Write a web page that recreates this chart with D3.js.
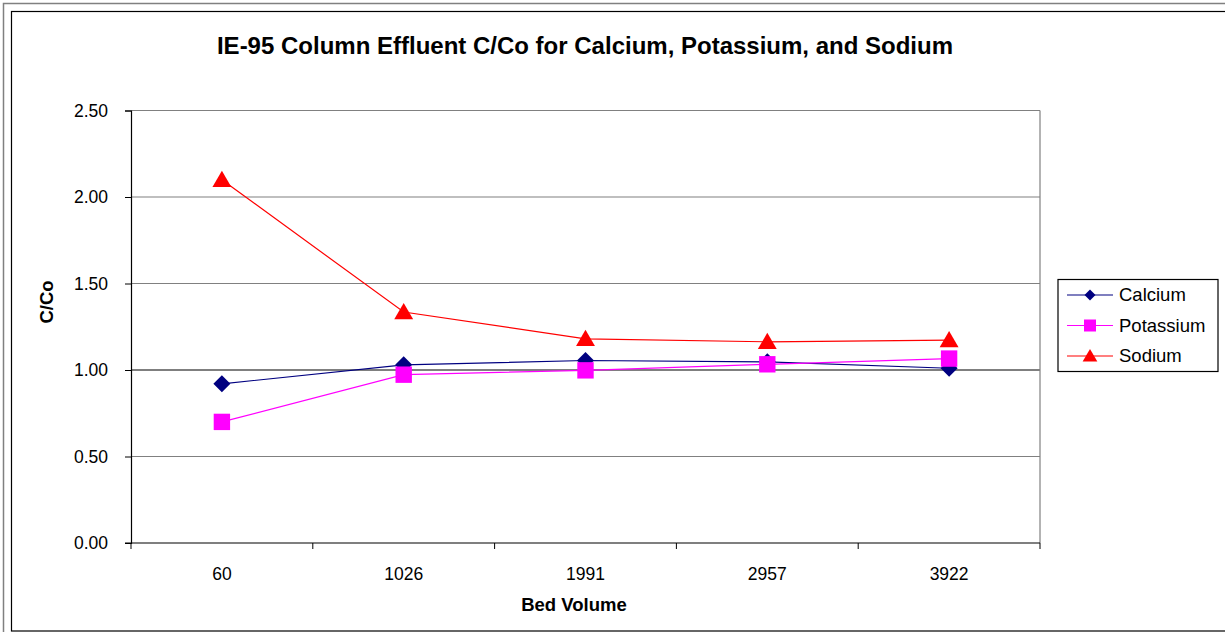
<!DOCTYPE html>
<html><head><meta charset="utf-8">
<script src="https://cdn.jsdelivr.net/npm/d3@7"></script>
<style>body{margin:0;background:#fff}svg{display:block}text{font-family:"Liberation Sans",Arial,sans-serif}</style>
</head><body>
<svg id="c" width="1225" height="632"></svg>
<script>
const categories = ["60","1026","1991","2957","3922"];
const calcium   = [0.92, 1.03, 1.055, 1.047, 1.01];
const potassium = [0.70, 0.973, 0.998, 1.033, 1.066];
const sodium    = [2.10, 1.335, 1.18, 1.163, 1.173];
const yTicks = [0, 0.5, 1.0, 1.5, 2.0, 2.5];
const seriesNames = ["Calcium","Potassium","Sodium"];
const seriesColors = ["#000080","#FF00FF","#FF0000"];

function marker(kind, s){
  // s = half-size
  if(kind===0) return `M0,${-s}L${s},0L0,${s}L${-s},0Z`;
  if(kind===1) return `M${-s},${-s}H${s}V${s}H${-s}Z`;
  return `M0,${-s}L${s*1.05},${s*0.8}H${-s*1.05}Z`;
}

const svg = d3.select("#c");
svg.append("rect").attr("x",3.5).attr("y",3.5).attr("width",1240).attr("height",640).attr("fill","none").attr("stroke","#808080").attr("stroke-width",1.5);
svg.append("rect").attr("x",11.5).attr("y",11.5).attr("width",1240).attr("height",619.5).attr("fill","none").attr("stroke","#000").attr("stroke-width",1.2);

const L=131, R=1040, T=110.5, B=543;
const x = d3.scaleBand().domain(categories).range([L,R]);
const y = d3.scaleLinear().domain([0,2.5]).range([B,T]);

svg.append("g").selectAll("line").data(yTicks.filter(v=>v>0)).join("line")
  .attr("x1",L).attr("x2",R).attr("y1",d=>y(d)).attr("y2",d=>y(d))
  .attr("stroke",d=>d===1?"#000":"#808080").attr("stroke-width",1.2);
svg.append("line").attr("x1",R).attr("x2",R).attr("y1",T).attr("y2",B).attr("stroke","#808080").attr("stroke-width",1.2);

const yAxis = svg.append("g").attr("transform",`translate(${L},0)`)
  .call(d3.axisLeft(y).tickValues(yTicks).tickFormat(d3.format(".2f")).tickSize(6).tickPadding(17));
yAxis.attr("font-size",null).attr("font-family",null);
yAxis.select(".domain").attr("stroke","#000").attr("stroke-width",1.2);
yAxis.selectAll("line").attr("stroke","#000");
yAxis.selectAll("text").style("font-size","17.5px").attr("fill","#000");

const xAxis = svg.append("g").attr("transform",`translate(0,${B})`)
  .call(d3.axisBottom(x).tickSize(0).tickPadding(25));
xAxis.attr("font-size",null).attr("font-family",null);
xAxis.select(".domain").remove();
xAxis.selectAll("text").style("font-size","17.5px").attr("fill","#000");
svg.append("line").attr("x1",L-6).attr("x2",R).attr("y1",B).attr("y2",B).attr("stroke","#000").attr("stroke-width",1.2);
svg.append("g").selectAll("line").data(categories.map((c,i)=>L+i*x.bandwidth()).concat([R])).join("line")
  .attr("x1",d=>d).attr("x2",d=>d).attr("y1",B).attr("y2",B+6).attr("stroke","#000");

const allData=[calcium,potassium,sodium];
const line = d3.line().x((d,i)=>x(categories[i])+x.bandwidth()/2).y(d=>y(d));
const mSizes=[8.5,8.2,9];
allData.forEach((vals,si)=>{
  svg.append("path").attr("d",line(vals)).attr("fill","none").attr("stroke",seriesColors[si]).attr("stroke-width",1.2);
  svg.append("g").selectAll("path").data(vals).join("path")
    .attr("transform",(d,i)=>`translate(${x(categories[i])+x.bandwidth()/2},${y(d)})`)
    .attr("d",marker(si,mSizes[si]))
    .attr("fill",seriesColors[si]);
});

svg.append("text").attr("x",585).attr("y",54).attr("text-anchor","middle").style("font-size","24px").attr("font-weight","bold").text("IE-95 Column Effluent C/Co for Calcium, Potassium, and Sodium");
svg.append("text").attr("x",574).attr("y",611).attr("text-anchor","middle").style("font-size","18.5px").attr("font-weight","bold").text("Bed Volume");
svg.append("text").attr("transform","translate(53,302) rotate(-90)").attr("text-anchor","middle").style("font-size","18.5px").attr("font-weight","bold").text("C/Co");

const lg = svg.append("g");
lg.append("rect").attr("x",1058).attr("y",279.5).attr("width",160).attr("height",92).attr("fill","#fff").attr("stroke","#000").attr("stroke-width",1.2);
const lSizes=[5.5,6,7];
seriesNames.forEach((n,i)=>{
  const yy = 295 + i*30.5;
  lg.append("line").attr("x1",1067).attr("x2",1113).attr("y1",yy).attr("y2",yy).attr("stroke",seriesColors[i]).attr("stroke-width",1.2);
  lg.append("path").attr("transform",`translate(1090,${yy})`).attr("d",marker(i,lSizes[i])).attr("fill",seriesColors[i]);
  lg.append("text").attr("x",1119).attr("y",yy+6).style("font-size","18.5px").text(n);
});
</script>
</body></html>
